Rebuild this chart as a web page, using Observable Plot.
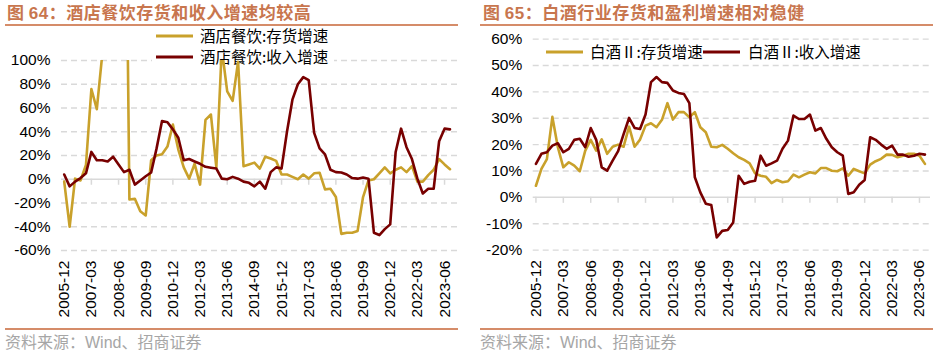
<!DOCTYPE html>
<html><head><meta charset="utf-8">
<script src="https://cdn.jsdelivr.net/npm/d3@7"></script>
<script src="https://cdn.jsdelivr.net/npm/@observablehq/plot@0.6"></script>
<style>
body{margin:0;background:#fff;}
#wrap{position:relative;width:937px;height:352px;overflow:hidden;background:#fff;}
.title{position:absolute;top:2px;font-family:"Noto Sans CJK SC";font-weight:bold;font-size:17px;color:#c8764e;white-space:nowrap;line-height:20px;letter-spacing:0.5px;}
.title .n{font-family:"Liberation Sans";}
.rule{position:absolute;height:2px;background:#d58c69;}
.src{position:absolute;top:332px;font-family:"Noto Sans CJK SC";font-size:16px;color:#a6a6a6;white-space:nowrap;line-height:18px;}
.src .w{font-family:"Liberation Sans";}
.plot{position:absolute;top:28px;}
</style></head>
<body><div id="wrap">
<div class="title" style="left:7px">图 <span class="n">64</span>：酒店餐饮存货和收入增速均较高</div>
<div class="rule" style="left:5px;width:453px;top:24px"></div>
<div class="title" style="left:483px">图 <span class="n">65</span>：白酒行业存货和盈利增速相对稳健</div>
<div class="rule" style="left:480px;width:453px;top:24px"></div>
<div id="left" class="plot" style="left:0px"></div>
<div id="right" class="plot" style="left:470px"></div>
<div class="rule" style="left:5px;width:453px;top:328px"></div>
<div class="rule" style="left:480px;width:453px;top:328px"></div>
<div class="src" style="left:5px">资料来源：<span class="w">Wind</span>、招商证券</div>
<div class="src" style="left:480px">资料来源：<span class="w">Wind</span>、招商证券</div>
</div>
<script>
// quarterly categories 2005-12 .. 2023-09
const quarters = [];
for (let y = 2005, m = 12; y < 2023 || (y === 2023 && m <= 9); ) {
  quarters.push(y + "-" + String(m).padStart(2, "0"));
  m += 3; if (m > 12) { m = 3; y++; }
}
const xTickLabels = ["2005-12","2007-03","2008-06","2009-09","2010-12","2012-03","2013-06","2014-09","2015-12","2017-03","2018-06","2019-09","2020-12","2022-03","2023-06"];

// 图64 酒店餐饮 (%)
const hotelInv = [-2,-40,0.5,-1,12,76,59,105,160,200,250,400,-17,-16.5,-27,-30.5,16,20,21,27.5,46,25,10,0.5,13,-4.5,50,54.5,10,110,74,66,99,11,12.5,14,9,19,17.5,15.5,4,4,2,0,4,0.5,5,5.5,-8.5,-8,-15,-46,-45,-45,-43.5,-15,-1,0,5,10,5,8,10,6,11,-2,-2,3.5,8,17,12.5,8.5];
const hotelRev = [4,-6,-2,1,5,23,16,16,15,19,12.5,6,8,-4.5,-1,2.5,5.7,26,49,48,42,35,16,17,15,13,10.5,9.7,9,0.5,0,2,0.5,-2,-3,-6,-2,-8,6,10,9,40,67,80,86,83.5,39,26,21,8,6,5.7,4,1,0.5,1.4,0.5,-45,-47,-42,-38,23,42.6,27,17,0.5,-12,-8,-8,32,42.6,42];
const hotelTicksY = [-60,-40,-20,0,20,40,60,80,100];

// 图65 白酒Ⅱ (%)
const baijiuInv = [4.4,10.8,14.5,30.5,19,11.4,13.3,12,9.9,17.7,21.8,17.7,22,16.5,19.2,20,19.2,26.8,19.2,21.9,27.2,28.1,26.6,29.4,35.7,29.5,32.3,32.3,30.4,32.3,26.6,24.7,19.2,19,19.9,18.4,16.7,15.2,14.2,12.9,9.1,8.2,7.8,5.4,6.6,5.7,6.1,8.6,7.6,8.6,9.5,9.1,11.1,11.1,10.1,9.9,11,8.2,10.8,9.9,9.1,12.4,13.7,14.6,16.2,16.1,15.2,15.8,16.5,16.5,15.8,12.7];
const baijiuRev = [12.7,16.5,17.1,19.6,20.5,17.1,18.4,21.8,22.2,19,26.3,21.8,11.4,10.1,13.9,17.5,24,30.1,26.3,25.9,31.4,43.7,45.6,43.7,43.4,40.5,39.6,39.2,35.7,7.6,1.9,-2.4,-2.9,-15.2,-12.7,-12.4,-9.5,8.2,5.1,5.9,6.3,15.8,12,12.9,13.9,18.4,21.5,31,29.7,29.7,31.4,25.3,26.3,22.2,19,17.1,15.8,1.3,1.9,4.8,6.6,22.8,21.8,20,18.4,19.6,16.2,16.2,15.4,15.8,16.5,16.2];
const baijiuTicksY = [-20,-10,0,10,20,30,40,50,60];

const leftLegend = ["酒店餐饮:存货增速", "酒店餐饮:收入增速"];
const rightLegend = ["白酒Ⅱ:存货增速", "白酒Ⅱ:收入增速"];

const GOLD = "#C9A12B", RED = "#780000";
const GRID = "#d9d9d9";

function makePanel({inv, rev, ticksY, yDomain, width, marginLeft, marginRight, marginTop, marginBottom, xRange}) {
  const data = quarters.map((q, i) => ({q, inv: inv[i], rev: rev[i]}));
  const el = Plot.plot({
    width, height: 300, marginLeft, marginRight, marginTop, marginBottom,
    x: {type: "point", domain: quarters, range: xRange, axis: null},
    y: {domain: yDomain, axis: null},
    style: {fontFamily: "Liberation Sans", fontSize: "15.5px", color: "#000", background: "transparent", overflow: "visible"},
    marks: [
      Plot.ruleY(ticksY.filter(d => d !== 0), {stroke: GRID, strokeWidth: 1.3, strokeDasharray: "6,4"}),
      Plot.ruleY([0], {stroke: GRID, strokeWidth: 1.5}),
      Plot.ruleX(xTickLabels, {x: d => d, y1: () => 0, y2: () => 0, insetBottom: -6, stroke: GRID, strokeWidth: 1.5}),
      Plot.axisY(ticksY, {tickSize: 0, tickPadding: 11, tickFormat: d => d + "%", fontSize: 15.5, label: null}),
      Plot.text(xTickLabels, {x: d => d, frameAnchor: "bottom", rotate: -90, textAnchor: "end", lineAnchor: "middle", dy: 10, fontSize: 15.5}),
      Plot.line(data, {x: "q", y: "inv", stroke: GOLD, strokeWidth: 2.6, clip: true}),
      Plot.line(data, {x: "q", y: "rev", stroke: RED, strokeWidth: 2.6, clip: true})
    ]
  });
  return el.tagName.toLowerCase() === "svg" ? el : el.querySelector("svg");
}

function addLegend(svg, items, bg) {
  const ns = "http://www.w3.org/2000/svg";
  const g = document.createElementNS(ns, "g");
  g.setAttribute("font-family", "'Noto Sans CJK SC'");
  g.setAttribute("font-size", "15.5");
  g.setAttribute("text-anchor", "start");
  const mk = (tag, attrs) => { const e = document.createElementNS(ns, tag); for (const k in attrs) e.setAttribute(k, attrs[k]); g.appendChild(e); return e; };
  if (bg) mk("rect", {x: bg[0], y: bg[1], width: bg[2], height: bg[3], fill: "#fff"});
  for (const it of items) {
    mk("rect", {x: it.x1, y: it.y - 1.5, width: it.x2 - it.x1, height: 3, fill: it.color, stroke: "none"});
    const t = mk("text", {x: it.tx, y: it.y, dy: "0.36em", fill: "#000", "text-anchor": "start"});
    t.textContent = it.label;
  }
  const firstLine = svg.querySelector('g[aria-label="line"]');
  if (firstLine) svg.insertBefore(g, firstLine); else svg.appendChild(g);
}

const svgL = makePanel({inv: hotelInv, rev: hotelRev, ticksY: hotelTicksY, yDomain: [-60, 100],
  width: 468, marginLeft: 61, marginRight: 11, marginTop: 32, marginBottom: 78, xRange: [61, 452.2]});
addLegend(svgL, [
  {x1: 156, x2: 193, y: 8, tx: 200, color: GOLD, label: leftLegend[0]},
  {x1: 156, x2: 193, y: 29, tx: 200, color: RED, label: leftLegend[1]}
], [152, -2, 182, 40]);
document.getElementById("left").appendChild(svgL);

const svgR = makePanel({inv: baijiuInv, rev: baijiuRev, ticksY: baijiuTicksY, yDomain: [-20, 60],
  width: 467, marginLeft: 62.7, marginRight: 7, marginTop: 10.6, marginBottom: 78.4, xRange: [62.7, 457.2]});
addLegend(svgR, [
  {x1: 76, x2: 113, y: 24, tx: 120, color: GOLD, label: rightLegend[0]},
  {x1: 233, x2: 270, y: 24, tx: 278, color: RED, label: rightLegend[1]}
], null);
document.getElementById("right").appendChild(svgR);
</script>
</body></html>
